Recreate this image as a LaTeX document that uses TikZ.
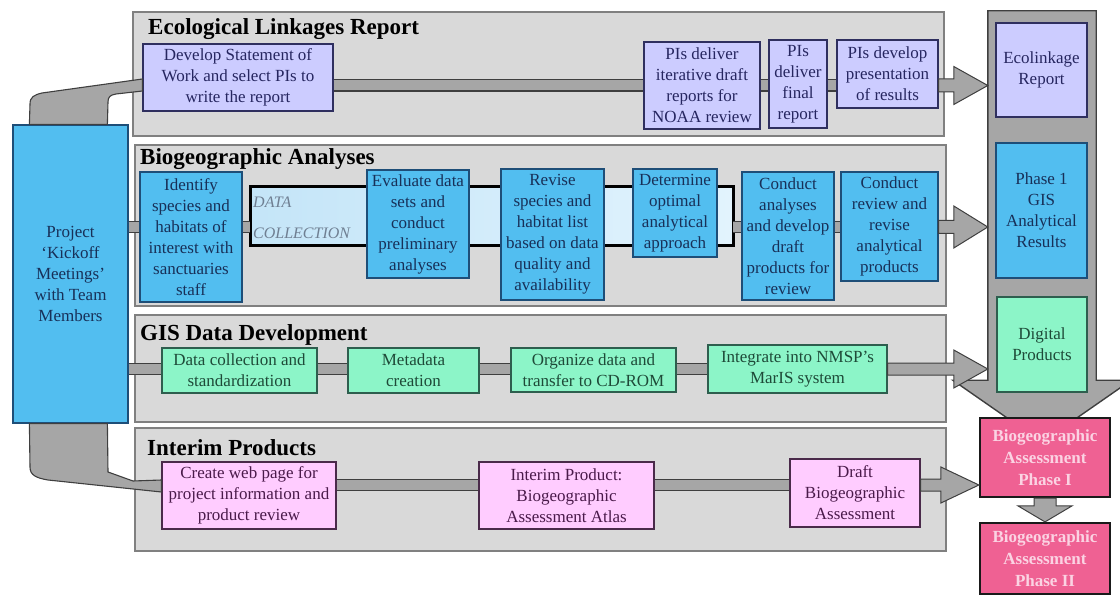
\documentclass[tikz,border=0pt]{standalone}
\usepackage{fontspec}
\setmainfont{Liberation Serif}
\usetikzlibrary{calc}
\definecolor{secfill}{HTML}{D9D9D9}
\definecolor{secdraw}{HTML}{808080}
\definecolor{bargray}{HTML}{A6A6A6}
\definecolor{bardark}{HTML}{3F3F3F}
\definecolor{lavfill}{HTML}{CCCCFF}
\definecolor{lavdraw}{HTML}{2F2F5F}
\definecolor{lavtext}{HTML}{262660}
\definecolor{bluefill}{HTML}{52BEF0}
\definecolor{bluedraw}{HTML}{1E4E78}
\definecolor{bluetext}{HTML}{183058}
\definecolor{greenfill}{HTML}{8CF5C8}
\definecolor{greendraw}{HTML}{2E5E4E}
\definecolor{greentext}{HTML}{1E4A38}
\definecolor{pinkfill}{HTML}{FFCCFF}
\definecolor{pinkdraw}{HTML}{4A2A4A}
\definecolor{pinktext}{HTML}{4A1A4A}
\definecolor{hotfill}{HTML}{EF6193}
\definecolor{hotdraw}{HTML}{1A1A1A}
\definecolor{hottext}{HTML}{FBD3E3}
\definecolor{bandL}{HTML}{C4E5F8}
\definecolor{bandR}{HTML}{E2F3FD}
\definecolor{datatext}{HTML}{6F7F92}
\newcommand\fatarrow[5]{%
  \draw[fatarr] let \p1=(#1), \p2=(#2) in
   (\x1,\y2+#5) -- (\x2-#3,\y2+#5) -- (\x2-#3,\y2+#4) -- (\x2,\y2)
   -- (\x2-#3,\y2-#4) -- (\x2-#3,\y2-#5) -- (\x1,\y2-#5) -- cycle;}
\tikzset{
  section/.style={fill=secfill, draw=secdraw, line width=2pt},
  sectitle/.style={anchor=base west, inner sep=0pt, font=\fontsize{23}{26}\selectfont\bfseries, text=black},
  box/.style={line width=1.2pt, inner sep=0pt, align=center, font=\fontsize{17}{21}\selectfont},
  lav/.style={box, fill=lavfill, draw=lavdraw, text=lavtext},
  blue/.style={box, fill=bluefill, draw=bluedraw, text=bluetext},
  green/.style={box, fill=greenfill, draw=greendraw, text=greentext},
  pinkbox/.style={box, fill=pinkfill, draw=pinkdraw, text=pinktext},
  hot/.style={box, fill=hotfill, draw=hotdraw, line width=2.2pt, text=hottext, font=\fontsize{17}{22}\selectfont\bfseries},
  bar/.style={draw=bardark, line width=1.1pt, double=bargray, double distance=10pt},
  fatarr/.style={fill=bargray, draw=bardark, line width=1pt, line join=miter},
  conn/.style={fill=bargray, draw=bardark, line width=1.1pt},
  colsty/.style={fill=bargray, draw=bardark, line width=1.4pt},
}
\begin{document}
\begin{tikzpicture}[x=1pt,y=-1pt]
\useasboundingbox (0,0) rectangle (1120,596);
\clip (0,0) rectangle (1120,596);

% sections
\draw[section] (133,12) rectangle (944,136);
\draw[section] (135,145) rectangle (946,306);
\draw[section] (135,315) rectangle (946,422);
\draw[section] (135,428) rectangle (946,551);

\node[sectitle] (t1) at (148,35) {Ecological Linkages Report};
\node[sectitle] (t2) at (140,165) {Biogeographic Analyses};
\node[sectitle] (t3) at (140,341) {GIS Data Development};
\node[sectitle] (t4) at (147,455) {Interim Products};

% right column (outputs)
\node[minimum width=108, minimum height=369, inner sep=0pt] (col) at (1042,195.5) {};
\draw[colsty] (col.north west) -- (col.north east) -- (col.south east)
  -- ([xshift=35pt]col.south east) -- ([yshift=-62pt]col.south)
  -- ([xshift=-35pt]col.south west) -- (col.south west) -- cycle;

% kickoff box
\node[blue, minimum width=115, minimum height=298] (K) at (70.5,274)
  {Project\\ ‘Kickoff\\ Meetings’\\ with Team\\ Members};

% boxes: Ecological Linkages Report
\node[lav, minimum width=190, minimum height=67] (A1) at (238,77.5)
  {Develop Statement of\\ Work and select PIs to\\ write the report};
\node[lav, minimum width=116, minimum height=87] (A2) at (702,85.5)
  {PIs deliver\\ iterative draft\\ reports for\\ NOAA review};
\node[lav, minimum width=58, minimum height=88] (A3) at (798,84)
  {PIs\\ deliver\\ final\\ report};
\node[lav, minimum width=101, minimum height=68] (A4) at (887.5,74)
  {PIs develop\\ presentation\\ of results};

% connectors from kickoff box
\draw[conn] ([xshift=17pt]K.north west) -- (30,104) .. controls (30,97) and (34,95) .. (42,93)
  -- (A1.west |- 0,79) -- (A1.west |- 0,91) -- (116,94) .. controls (110,95) and (108,97) .. (108,102)
  -- ([xshift=95pt]K.north west) -- cycle;

% Biogeographic analyses
\draw[line width=3pt, draw=black, left color=bandL, right color=bandR] (250,187) rectangle (733,246);
\node[inner sep=0pt, minimum width=483, minimum height=59] (band) at (491.5,216.5) {};
\node[anchor=west, inner sep=0pt, align=left, text=datatext, font=\fontsize{16}{31}\selectfont\itshape] (dc) at (253,217.5) {DATA\\COLLECTION};

\node[blue, minimum width=102, minimum height=130] (B1) at (191,237)
  {Identify\\ species and\\ habitats of\\ interest with\\ sanctuaries\\ staff};
\node[blue, minimum width=102, minimum height=108] (B2) at (418,224)
  {Evaluate data\\ sets and\\ conduct\\ preliminary\\ analyses};
\node[blue, minimum width=103, minimum height=131] (B3) at (552.5,234.5)
  {Revise\\ species and\\ habitat list\\ based on data\\ quality and\\ availability};
\node[blue, minimum width=84, minimum height=88] (B4) at (675,213)
  {Determine\\ optimal\\ analytical\\ approach};
\node[blue, minimum width=92, minimum height=128] (B5) at (788,236)
  {Conduct\\ analyses\\ and develop\\ draft\\ products for\\ review};
\node[blue, minimum width=97, minimum height=109] (B6) at (889.5,226.5)
  {Conduct\\ review and\\ revise\\ analytical\\ products};

% GIS data development
\node[green, minimum width=155, minimum height=45] (C1) at (239.5,370.5)
  {Data collection and\\ standardization};
\node[green, minimum width=131, minimum height=45] (C2) at (413.5,370.5)
  {Metadata\\ creation};
\node[green, minimum width=165, minimum height=44] (C3) at (593.5,370)
  {Organize data and\\ transfer to CD-ROM};
\node[green, minimum width=179, minimum height=48] (C4) at (797.5,369)
  {Integrate into NMSP’s\\ MarIS system};

% Interim products
\node[pinkbox, minimum width=174, minimum height=67] (D1) at (249,495.5)
  {Create web page for\\ project information and\\ product review};
\node[pinkbox, minimum width=175, minimum height=67] (D2) at (566.5,495.5)
  {Interim Product:\\ Biogeographic\\ Assessment Atlas};
\node[pinkbox, minimum width=130, minimum height=68] (D3) at (855,493)
  {Draft\\ Biogeographic\\ Assessment};

\draw[conn] ([xshift=17pt]K.south west) -- (30,467) .. controls (30,475) and (36,478) .. (48,480)
  -- (D1.west |- 0,492) -- (D1.west |- 0,480) -- (133,481) -- (108,472)
  -- ([xshift=95pt]K.south west) -- cycle;

% output boxes
\node[lav, minimum width=91, minimum height=94] (R1) at (1041.5,70) {Ecolinkage\\ Report};
\node[blue, minimum width=91, minimum height=135] (R2) at (1041.5,210.5) {Phase 1\\ GIS\\ Analytical\\ Results};
\node[green, minimum width=90, minimum height=95] (R3) at (1042,344.5) {Digital\\ Products};
\node[hot, minimum width=130, minimum height=79] (P1) at (1045,457.5) {Biogeographic\\ Assessment\\ Phase I};
\node[hot, minimum width=130, minimum height=71] (P2) at (1045,558.5) {Biogeographic\\ Assessment\\ Phase II};

% bars between boxes
\draw[bar] (A1.east |- 0,85.5) -- (A2.west |- 0,85.5);
\draw[bar] (A2.east |- 0,85.5) -- (A3.west |- 0,85.5);
\draw[bar] (A3.east |- 0,85.5) -- (A4.west |- 0,85.5);

\draw[bar] (K.east |- 0,227) -- (B1.west |- 0,227);
\draw[bar] (B1.east |- 0,227) -- (band.west |- 0,227);
\draw[bar] (band.east |- 0,227) -- (B5.west |- 0,227);
\draw[bar] (B5.east |- 0,227) -- (B6.west |- 0,227);

\draw[bar] (K.east |- 0,369) -- (C1.west |- 0,369);
\draw[bar] (C1.east |- 0,369) -- (C2.west |- 0,369);
\draw[bar] (C2.east |- 0,369) -- (C3.west |- 0,369);
\draw[bar] (C3.east |- 0,369) -- (C4.west |- 0,369);

\draw[bar] (D1.east |- 0,485) -- (D2.west |- 0,485);
\draw[bar] (D2.east |- 0,485) -- (D3.west |- 0,485);

% fat arrows into outputs
\fatarrow{A4.east |- 0,85.5}{col.west |- 0,85.5}{34pt}{19pt}{6.5pt}
\fatarrow{B6.east |- 0,227}{col.west |- 0,227}{34pt}{21pt}{6.5pt}
\fatarrow{C4.east |- 0,369}{col.west |- 0,369}{34pt}{19pt}{6pt}
\fatarrow{D3.east |- 0,485}{P1.west |- 0,485}{38pt}{18pt}{6pt}

\draw[fatarr] let \p1=(P1.south), \p2=(P2.north) in
  (\x1-11pt,\y1) -- (\x1-11pt,\y2+16pt) -- (\x1-27pt,\y2+16pt) -- (\x1,\y2)
  -- (\x1+27pt,\y2+16pt) -- (\x1+11pt,\y2+16pt) -- (\x1+11pt,\y1) -- cycle;
\end{tikzpicture}
\end{document}
